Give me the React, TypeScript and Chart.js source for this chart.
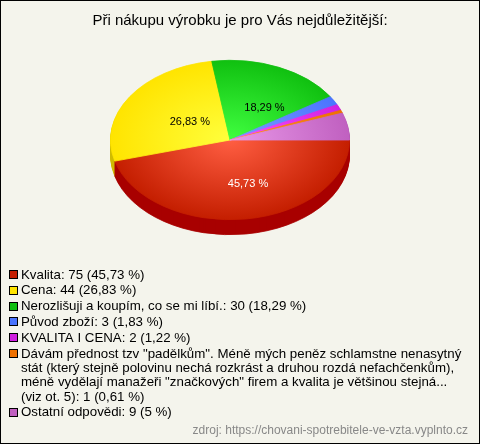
import { useEffect, useRef } from "react";
import { Chart, registerables } from "chart.js";

Chart.register(...registerables);

const chartTitle = "Při nákupu výrobku je pro Vás nejdůležitější:";
const categories = [
  "Kvalita",
  "Cena",
  "Nerozlišuji a koupím, co se mi líbí.",
  "Původ zboží",
  "KVALITA I CENA",
  "Dávám přednost tzv \"padělkům\". Méně mých peněz schlamstne nenasytný stát (který stejně polovinu nechá rozkrást a druhou rozdá nefachčenkům), méně vydělají manažeři \"značkových\" firem a kvalita je většinou stejná... (viz ot. 5)",
  "Ostatní odpovědi",
];
const counts = [75, 44, 30, 3, 2, 1, 9];
const percentLabels = ["45,73 %", "26,83 %", "18,29 %", "1,83 %", "1,22 %", "0,61 %", "5 %"];
const sourceNote = "zdroj: https://chovani-spotrebitele-ve-vzta.vyplnto.cz";

const baseColors = ["#c41e00", "#ffe400", "#10c010", "#4a74ff", "#d020e0", "#ee7000", "#c060c0"];
const lightColors = ["#ff5e42", "#ffff3c", "#40ff40", "#7c9cff", "#ff50ff", "#ff9a20", "#e898e8"];
const sideColors = ["#a80000", "#d0bc00", "#0a9a0a", "#3050c8", "#a010b0", "#c05800", "#9a449a"];
const legendColors = ["#c41e00", "#ffe400", "#10c010", "#4a74ff", "#d020e0", "#ee7000", "#c060c0"];
const labelColors = ["#ffffff", "#000000", "#000000", "#000000", "#000000", "#000000", "#000000"];

const FONT = "'Liberation Sans', Arial, sans-serif";
const TILT = 2 / 3;
const DEPTH = 15;
const SHIFT_X = -10;
const LABEL_R = 0.5;
const LABEL_DX = 10;
const LABEL_DY = 4;

function frame(chart: any) {
  const a = chart.chartArea;
  const cx = (a.left + a.right) / 2;
  const cy = (a.top + a.bottom) / 2;
  const r = Math.min(a.right - a.left, a.bottom - a.top) / 2;
  return { cx, cy, r, ex: cx + SHIFT_X, ey: a.top + r * TILT };
}

function applyTilt(ctx: CanvasRenderingContext2D, f: any, dy: number) {
  ctx.translate(f.ex, f.ey + dy);
  ctx.scale(1, TILT);
  ctx.translate(-f.cx, -f.cy);
}

function gradientFor(context: any) {
  const i = context.dataIndex;
  const chart = context.chart;
  const a = chart.chartArea;
  if (!a || i === undefined) return baseColors[i ?? 0];
  const cx = (a.left + a.right) / 2;
  const cy = (a.top + a.bottom) / 2;
  const r = Math.min(a.right - a.left, a.bottom - a.top) / 2;
  const g = chart.ctx.createRadialGradient(cx, cy, 0, cx, cy, r);
  g.addColorStop(0, lightColors[i]);
  g.addColorStop(1, baseColors[i]);
  return g;
}

const backgroundPlugin = {
  id: "bgBorder",
  beforeDraw(chart: any) {
    const ctx = chart.ctx;
    ctx.save();
    ctx.fillStyle = "#f4f4ec";
    ctx.fillRect(0, 0, chart.width, chart.height);
    ctx.strokeStyle = "#000000";
    ctx.lineWidth = 1;
    ctx.strokeRect(0.5, 0.5, chart.width - 1, chart.height - 1);
    ctx.restore();
  },
};

const tiltPlugin = {
  id: "tilt3d",
  beforeDatasetsDraw(chart: any) {
    const ctx = chart.ctx;
    const f = frame(chart);
    const meta = chart.getDatasetMeta(0);
    for (let d = DEPTH; d >= 1; d--) {
      ctx.save();
      applyTilt(ctx, f, d);
      meta.data.forEach((arc: any, i: number) => {
        const saved = arc.options;
        arc.options = { ...saved, backgroundColor: sideColors[i], borderColor: sideColors[i] };
        arc.draw(ctx);
        arc.options = saved;
      });
      ctx.restore();
    }
    ctx.save();
    applyTilt(ctx, f, 0);
  },
  afterDatasetsDraw(chart: any) {
    const ctx = chart.ctx;
    ctx.restore();
    const f = frame(chart);
    const meta = chart.getDatasetMeta(0);
    const total = counts.reduce((s, v) => s + v, 0);
    ctx.save();
    ctx.font = `11px ${FONT}`;
    ctx.textAlign = "center";
    ctx.textBaseline = "middle";
    meta.data.forEach((arc: any, i: number) => {
      if (counts[i] / total < 0.1) return;
      const p = arc.getProps(["startAngle", "endAngle", "outerRadius"], true);
      const mid = (p.startAngle + p.endAngle) / 2;
      const px = f.ex + Math.cos(mid) * p.outerRadius * LABEL_R + LABEL_DX;
      const py = f.ey + Math.sin(mid) * p.outerRadius * LABEL_R * TILT + LABEL_DY;
      ctx.fillStyle = labelColors[i];
      ctx.fillText(percentLabels[i], px, py);
    });
    ctx.restore();
  },
};

const legendPlugin = {
  id: "customLegend",
  afterDraw(chart: any) {
    const ctx = chart.ctx;
    const boxX = 9;
    const textX = 21;
    const maxW = 444;
    const itemStep = 15.8;
    const lineStep = 14.3;
    let y = 275;
    ctx.save();
    ctx.font = `13.3px ${FONT}`;
    ctx.textBaseline = "middle";
    ctx.textAlign = "left";
    categories.forEach((cat, i) => {
      const text = `${cat}: ${counts[i]} (${percentLabels[i]})`;
      const words = text.split(" ");
      const lines: string[] = [];
      let cur = "";
      words.forEach((w) => {
        const test = cur ? cur + " " + w : w;
        if (cur && ctx.measureText(test).width > maxW) {
          lines.push(cur);
          cur = w;
        } else {
          cur = test;
        }
      });
      if (cur) lines.push(cur);
      ctx.fillStyle = legendColors[i];
      ctx.fillRect(boxX + 0.5, Math.round(y) - 4.5, 8, 8);
      ctx.strokeStyle = "#000000";
      ctx.lineWidth = 1;
      ctx.strokeRect(boxX + 0.5, Math.round(y) - 4.5, 8, 8);
      ctx.fillStyle = "#000000";
      lines.forEach((ln, k) => {
        ctx.fillText(ln, textX, y + k * lineStep);
      });
      y += (lines.length - 1) * lineStep + itemStep;
    });
    ctx.font = `12px ${FONT}`;
    ctx.textAlign = "right";
    ctx.fillStyle = "#888888";
    ctx.fillText(sourceNote, 468, 431);
    ctx.restore();
  },
};

export default function App() {
  const ref = useRef<HTMLCanvasElement | null>(null);
  useEffect(() => {
    if (!ref.current) return;
    const chart = new Chart(ref.current, {
      type: "pie",
      data: {
        labels: categories,
        datasets: [
          {
            data: counts,
            backgroundColor: gradientFor as any,
            borderColor: gradientFor as any,
            borderWidth: 1,
            clip: false as any,
          },
        ],
      },
      options: {
        responsive: false,
        animation: false,
        events: [],
        rotation: 90,
        layout: { padding: { top: 0, left: 20, right: 20, bottom: 144 } },
        plugins: {
          legend: { display: false },
          tooltip: { enabled: false },
          title: {
            display: true,
            text: chartTitle,
            color: "#000000",
            font: { size: 15, weight: "normal", family: FONT, lineHeight: 1.2 },
            padding: { top: 11.5, bottom: 30.5 },
          },
        },
      },
      plugins: [backgroundPlugin, tiltPlugin, legendPlugin],
    });
    return () => chart.destroy();
  }, []);
  return (
    <canvas
      ref={ref}
      width={480}
      height={444}
      style={{ position: "absolute", left: 0, top: 0 }}
    />
  );
}
